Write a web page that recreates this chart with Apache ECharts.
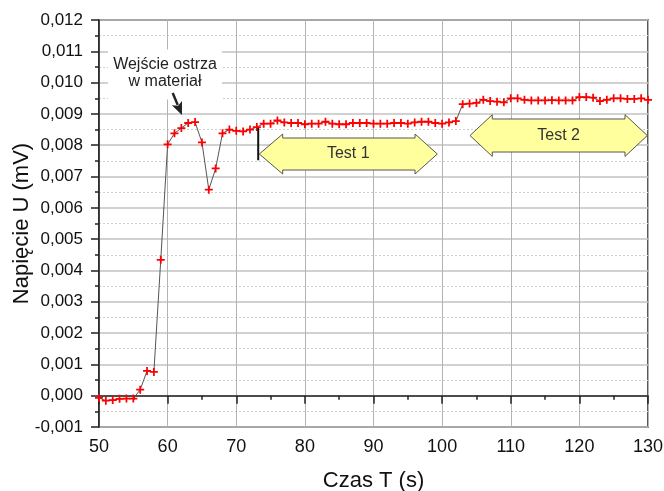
<!DOCTYPE html>
<html><head><meta charset="utf-8">
<script src="https://cdn.jsdelivr.net/npm/echarts@6/dist/echarts.min.js"></script>
<style>html,body{margin:0;padding:0;background:#fff}#c{width:664px;height:491px}</style>
</head><body><div id="c"></div>
<script>
// ---- data ----
const timeS = [50,51,52,53,54,55,56,57,58,59,60,61,62,63,64,65,66,67,68,69,70,
  71,72,73,74,75,76,77,78,79,80,81,82,83,84,85,86,87,88,89,90,
  91,92,93,94,95,96,97,98,99,100,101,102,103,104,105,106,107,108,109,110,
  111,112,113,114,115,116,117,118,119,120,121,122,123,124,125,126,127,128,129,130];
const voltageMV = [-0.00007,-0.00016,-0.00014,-0.00010,-0.00009,-0.00009,0.00019,0.00079,0.00076,0.00434,0.00803,
  0.00838,0.00855,0.00871,0.00874,0.00809,0.00658,0.00726,0.00838,0.00850,0.00846,
  0.00844,0.00850,0.00858,0.00869,0.00869,0.00879,0.00873,0.00871,0.00871,0.00867,
  0.00869,0.00869,0.00875,0.00869,0.00867,0.00867,0.00871,0.00871,0.00871,0.00869,
  0.00869,0.00869,0.00871,0.00871,0.00869,0.00873,0.00875,0.00875,0.00871,0.00869,
  0.00873,0.00877,0.00931,0.00933,0.00935,0.00945,0.00941,0.00939,0.00937,0.00950,
  0.00950,0.00945,0.00943,0.00943,0.00943,0.00944,0.00943,0.00943,0.00943,0.00954,
  0.00954,0.00952,0.00941,0.00945,0.00950,0.00950,0.00948,0.00948,0.00950,0.00945];
const xAxisName = 'Czas T (s)';
const yAxisName = 'Napięcie U (mV)';
const noteLines = ['Wejście ostrza', 'w materiał'];
const testLabels = ['Test 1', 'Test 2'];

const FONT = '"Liberation Sans", Arial, sans-serif';
const chart = echarts.init(document.getElementById('c'), null, {renderer: 'canvas'});
const fmtY = v => (Math.abs(v) < 1e-9 ? 0 : v).toFixed(3).replace('.', ',');

chart.setOption({
  animation: false,
  backgroundColor: '#fff',
  grid: {left: 99, right: 16, top: 20, bottom: 64, show: true, borderColor: '#222', borderWidth: 1.5,
    containLabel: false, outerBoundsMode: 'none'},
  xAxis: {
    type: 'value', min: 50, max: 130, interval: 10,
    name: xAxisName, nameLocation: 'middle', nameGap: 43, nameMoveOverlap: false,
    nameTextStyle: {fontSize: 22, color: '#111', fontFamily: FONT},
    axisLine: {show: true, lineStyle: {color: '#222', width: 1.5}},
    axisTick: {show: true, length: 8, lineStyle: {color: '#222', width: 1.5}},
    minorTick: {show: true, splitNumber: 2, length: 4, lineStyle: {color: '#222', width: 1.5}},
    splitLine: {show: true, lineStyle: {color: '#b4b4b4', width: 1}},
    minorSplitLine: {show: false},
    axisLabel: {fontSize: 18, color: '#111', fontFamily: FONT, margin: 11}
  },
  yAxis: {
    type: 'value', min: -0.001, max: 0.012, interval: 0.001,
    name: yAxisName, nameLocation: 'middle', nameGap: 66, nameMoveOverlap: false,
    nameTextStyle: {fontSize: 22, color: '#111', fontFamily: FONT},
    axisLine: {show: true, lineStyle: {color: '#222', width: 1.5}},
    axisTick: {show: true, length: 8, lineStyle: {color: '#222', width: 1.5}},
    minorTick: {show: true, splitNumber: 2, length: 4, lineStyle: {color: '#222', width: 1.5}},
    splitLine: {show: true, lineStyle: {color: '#c2c2c2', width: 1.5}},
    minorSplitLine: {show: true, lineStyle: {color: '#cfcfcf', width: 1, type: [2, 2]}},
    axisLabel: {fontSize: 17, color: '#111', fontFamily: FONT, margin: 16, formatter: fmtY}
  },
  series: [{
    type: 'line',
    data: timeS.map((t, i) => [t, voltageMV[i]]),
    symbol: 'path://M3.9,0H6.1V3.9H10V6.1H6.1V10H3.9V6.1H0V3.9H3.9Z',
    symbolSize: 8,
    itemStyle: {color: '#ff0000'},
    lineStyle: {color: '#555', width: 1},
    z: 3
  }]
});

const P = p => chart.convertToPixel({gridIndex: 0}, p);
const g = [];

// note box + text
const nc = P([59.62, 0.01029]);
g.push({type: 'rect', z: 50, shape: {x: nc[0] - 57, y: nc[1] - 24, width: 114, height: 50}, style: {fill: '#fff'}});
g.push({type: 'text', z: 51, style: {text: noteLines.join('\n'), x: nc[0], y: nc[1], align: 'center', verticalAlign: 'middle',
  font: '16px ' + FONT, fill: '#222', lineHeight: 17}});

// note arrow
const s = P([60.74, 0.009668]), t = P([62.09, 0.008965]);
const dx = t[0] - s[0], dy = t[1] - s[1], L = Math.hypot(dx, dy), ux = dx / L, uy = dy / L, nx = -uy, ny = ux;
const hl = 13, hw = 5.5;
const b = [t[0] - ux * hl, t[1] - uy * hl];
g.push({type: 'line', z: 52, shape: {x1: s[0], y1: s[1], x2: b[0] + ux * 2, y2: b[1] + uy * 2}, style: {stroke: '#222', lineWidth: 2.5}});
g.push({type: 'polygon', z: 52, shape: {points: [t, [b[0] + nx * hw, b[1] + ny * hw], [b[0] + ux * 3, b[1] + uy * 3], [b[0] - nx * hw, b[1] - ny * hw]]}, style: {fill: '#222'}});

// vertical bar at start of Test 1
const q1 = P([73.2, 0.00855]), q2 = P([73.2, 0.00752]);
g.push({type: 'line', z: 53, shape: {x1: q1[0], y1: q1[1], x2: q2[0], y2: q2[1]}, style: {stroke: '#111', lineWidth: 2}});

// double arrows
function dbl(tipL, baseL, baseR, tipR, headTop, shaftTop, shaftBot, headBot, label, fs) {
  const mid = (headTop + headBot) / 2;
  const pts = [[tipL, mid], [baseL, headTop], [baseL, shaftTop], [baseR, shaftTop], [baseR, headTop], [tipR, mid],
    [baseR, headBot], [baseR, shaftBot], [baseL, shaftBot], [baseL, headBot]].map(P);
  g.push({type: 'polygon', z: 40, shape: {points: pts}, style: {fill: '#ffff9e', stroke: '#555', lineWidth: 1}});
  const c = P([(tipL + tipR) / 2, mid]);
  g.push({type: 'text', z: 41, style: {text: label, x: c[0], y: c[1], align: 'center', verticalAlign: 'middle', font: fs + 'px ' + FONT, fill: '#333'}});
}
dbl(73.36, 76.77, 96.05, 99.30, 0.008358, 0.00823, 0.007208, 0.007081, testLabels[0], 16);
dbl(104.06, 107.31, 126.65, 129.90, 0.008975, 0.008838, 0.007783, 0.007643, testLabels[1], 16);

chart.setOption({graphic: g});
</script>
</body></html>
